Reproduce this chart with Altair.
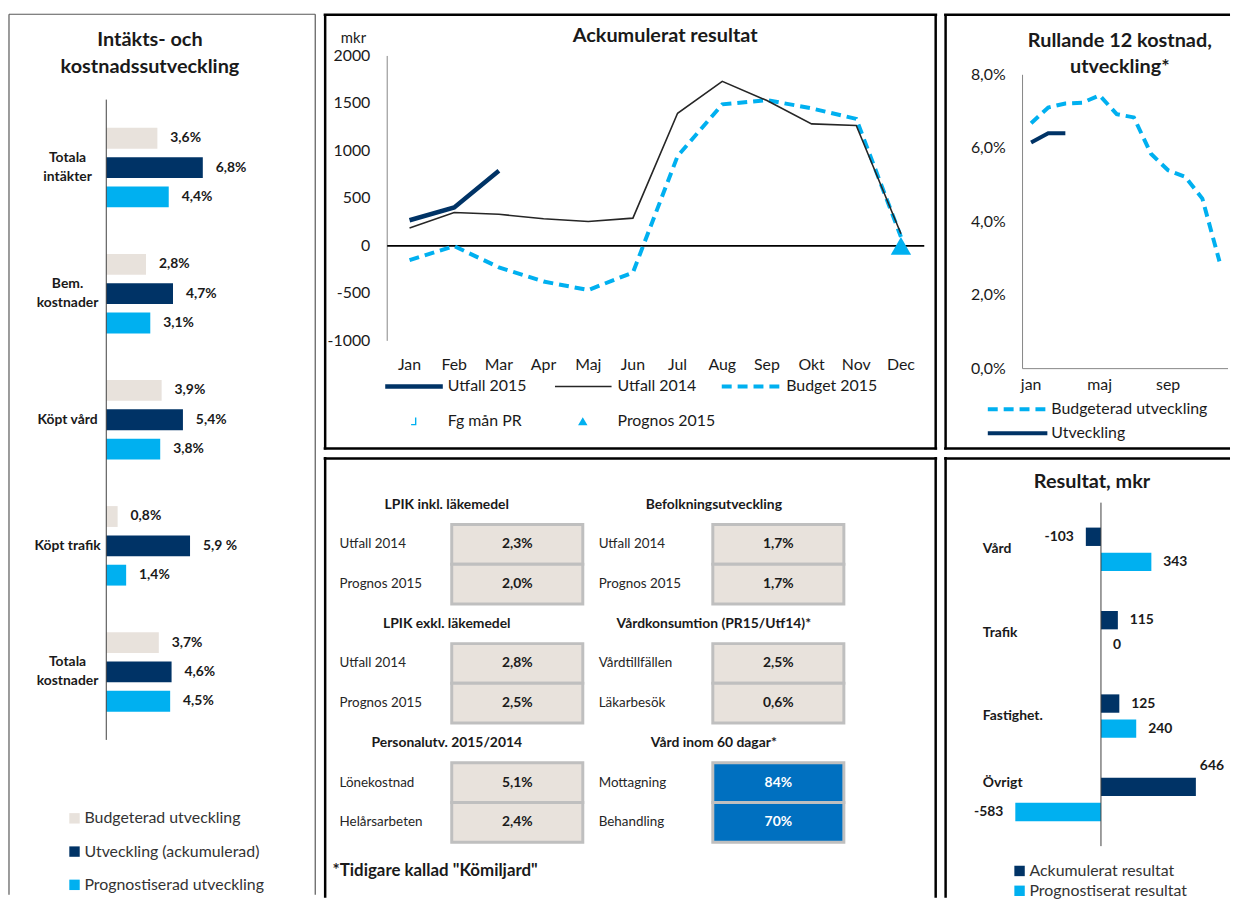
import altair as alt
import pandas as pd

FONT = "Lato"
NAVY = "#003366"
CYAN = "#00B0F0"
BEIGE = "#E8E2DC"
BLUE = "#0070C0"
INK = "#1a1a1a"
AXIS_GREY = "#868686"

# ---------------- data ----------------
# Left: Intäkts- och kostnadssutveckling
dev_categories = ["Totala intäkter", "Bem. kostnader", "Köpt vård", "Köpt trafik", "Totala kostnader"]
dev_category_labels = ["Totala\nintäkter", "Bem.\nkostnader", "Köpt vård", "Köpt trafik", "Totala\nkostnader"]
dev_series = ["Budgeterad utveckling", "Utveckling (ackumulerad)", "Prognostiserad utveckling"]
dev_budget = [3.6, 2.8, 3.9, 0.8, 3.7]
dev_actual = [6.8, 4.7, 5.4, 5.9, 4.6]
dev_forecast = [4.4, 3.1, 3.8, 1.4, 4.5]
dev_budget_text = ["3,6%", "2,8%", "3,9%", "0,8%", "3,7%"]
dev_actual_text = ["6,8%", "4,7%", "5,4%", "5,9 %", "4,6%"]
dev_forecast_text = ["4,4%", "3,1%", "3,8%", "1,4%", "4,5%"]

# Middle top: Ackumulerat resultat (mkr)
months = ["Jan", "Feb", "Mar", "Apr", "Maj", "Jun", "Jul", "Aug", "Sep", "Okt", "Nov", "Dec"]
acc_utfall_2015 = [270, 405, 790]
acc_utfall_2014 = [187, 351, 333, 285, 257, 292, 1396, 1732, 1530, 1285, 1267, 128]
acc_budget_2015 = [-149, -3, -226, -375, -465, -281, 945, 1490, 1535, 1448, 1337, 95]
acc_prognos_month = ["Dec"]
acc_prognos_2015 = [0]
acc_y_ticks = [-1000, -500, 0, 500, 1000, 1500, 2000]

# Right top: Rullande 12 kostnad, utveckling
r12_months = ["jan", "feb", "mar", "apr", "maj", "jun", "jul", "aug", "sep", "okt", "nov", "dec"]
r12_budget = [6.68, 7.11, 7.22, 7.24, 7.44, 6.93, 6.84, 5.85, 5.40, 5.22, 4.63, 2.92]
r12_actual = [6.16, 6.41, 6.41]
r12_y_ticks = [0, 2, 4, 6, 8]
r12_x_ticks = ["jan", "maj", "sep"]

# Middle bottom: key figures
kpi_headings = ["LPIK inkl. läkemedel", "Befolkningsutveckling", "LPIK exkl. läkemedel",
                "Vårdkonsumtion (PR15/Utf14)*", "Personalutv. 2015/2014", "Vård inom 60 dagar*"]
kpi_row_labels = [["Utfall 2014", "Prognos 2015"], ["Utfall 2014", "Prognos 2015"],
                  ["Utfall 2014", "Prognos 2015"], ["Vårdtillfällen", "Läkarbesök"],
                  ["Lönekostnad", "Helårsarbeten"], ["Mottagning", "Behandling"]]
kpi_values = [["2,3%", "2,0%"], ["1,7%", "1,7%"], ["2,8%", "2,5%"],
              ["2,5%", "0,6%"], ["5,1%", "2,4%"], ["84%", "70%"]]
kpi_highlight = [0, 0, 0, 0, 0, 1]
kpi_footnote = '*Tidigare kallad "Kömiljard"'

# Right bottom: Resultat, mkr
res_categories = ["Vård", "Trafik", "Fastighet.", "Övrigt"]
res_series = ["Ackumulerat resultat", "Prognostiserat resultat"]
res_acc = [-103, 115, 125, 646]
res_prog = [343, 0, 240, -583]

# ---------------- helpers ----------------
ONE = alt.Data(values=[{"k": 0}])


def vline(x, y1, y2, color, width):
    return alt.Chart(ONE).mark_rule(color=color, strokeWidth=width).encode(
        x=alt.value(x), y=alt.value(y1), y2=alt.value(y2))


def hline(y, x1, x2, color, width, dash=None):
    mk = dict(color=color, strokeWidth=width)
    if dash:
        mk["strokeDash"] = dash
    return alt.Chart(ONE).mark_rule(**mk).encode(
        x=alt.value(x1), x2=alt.value(x2), y=alt.value(y))


def note(text, x, y, size, weight="normal", align="center", color=INK, line_height=None):
    mk = dict(align=align, baseline="middle", font=FONT, fontSize=size,
              fontWeight=weight, color=color)
    if line_height:
        mk["lineHeight"] = line_height
    return alt.Chart(ONE).mark_text(**mk).encode(
        x=alt.value(x), y=alt.value(y), text=alt.value(text))


LW, MW, RW = 310, 618, 288
TH, BH = 442, 444
LH = TH + 4 + BH
TITLE = 20
LEG = 16
AX = 16

# ---------------- left panel ----------------
DEV_BAR_STEP = 30 / 129  # spacing of the three bars inside one category (category units)
dev_rows = []
for i, cat in enumerate(dev_categories):
    for j, (s, vals, txts) in enumerate(zip(dev_series, [dev_budget, dev_actual, dev_forecast],
                                            [dev_budget_text, dev_actual_text, dev_forecast_text])):
        dev_rows.append({"cat": cat, "series": s, "value": vals[i], "text": txts[i],
                         "pos": i + 0.5 + (j - 1) * DEV_BAR_STEP})
dev_df = pd.DataFrame(dev_rows)
dev_cat_df = pd.DataFrame({"cat": dev_categories, "label": dev_category_labels,
                           "pos": [i + 0.5 for i in range(len(dev_categories))]})

dev_x = alt.Scale(domain=[0, 10], range=[99, 242], nice=False, zero=True)
dev_y = alt.Scale(domain=[0, len(dev_categories)], range=[89, 734], nice=False, zero=False)
dev_color = alt.Scale(domain=dev_series, range=[BEIGE, NAVY, CYAN])

dev_bars = alt.Chart(dev_df).mark_bar(orient="horizontal", size=21).encode(
    x=alt.X("value:Q", scale=dev_x, axis=None),
    y=alt.Y("pos:Q", scale=dev_y, axis=None),
    color=alt.Color("series:N", scale=dev_color, legend=alt.Legend(
        orient="none", legendX=59, legendY=805, direction="vertical", title=None,
        symbolType="square", symbolSize=110, symbolStrokeWidth=0,
        labelFont=FONT, labelFontSize=LEG, labelColor="#333333", labelLimit=300,
        rowPadding=17.5, labelOffset=2, padding=0)),
)
dev_text = alt.Chart(dev_df).mark_text(
    align="left", baseline="middle", dx=13, font=FONT, fontSize=14,
    fontWeight="bold", color=INK).encode(
    x=alt.X("value:Q", scale=dev_x, axis=None),
    y=alt.Y("pos:Q", scale=dev_y, axis=None),
    text="text:N",
)
cat_style = dict(align="center", baseline="middle", font=FONT, fontSize=14,
                 fontWeight="bold", color=INK, lineBreak="\n", lineHeight=19)
dev_cats_two = alt.Chart(dev_cat_df).mark_text(dy=-9.5, **cat_style).encode(
    x=alt.value(60), y=alt.Y("pos:Q", scale=dev_y, axis=None), text="label:N",
).transform_filter("indexof(datum.label, '\\n') >= 0")
dev_cats_one = alt.Chart(dev_cat_df).mark_text(**cat_style).encode(
    x=alt.value(60), y=alt.Y("pos:Q", scale=dev_y, axis=None), text="label:N",
).transform_filter("indexof(datum.label, '\\n') < 0")
dev_axis = alt.Chart(ONE).mark_rule(color="#404040", strokeWidth=1).encode(
    x=alt.X(datum=0, axis=None), y=alt.value(89), y2=alt.value(734))

left = alt.layer(
    vline(1, 3, LH, "#595959", 1.2),
    hline(3, 1, 309.5, "#595959", 1.2),
    vline(309.5, 3, LH, "#595959", 1.2),
    note(["Intäkts- och", "kostnadssutveckling"], 143, 29, TITLE, "bold", line_height=27),
    dev_bars, dev_text, dev_cats_two, dev_cats_one, dev_axis,
).properties(width=LW, height=LH)

# ---------------- middle top: line chart ----------------
acc_x = alt.Scale(type="point", domain=months, range=[64, 604], padding=0.5)
acc_y = alt.Scale(domain=[-1000, 2000], range=[332, 45], nice=False, zero=False)

df_2015 = pd.DataFrame({"month": months[:len(acc_utfall_2015)], "value": acc_utfall_2015})
df_2014 = pd.DataFrame({"month": months, "value": acc_utfall_2014})
df_budget = pd.DataFrame({"month": months, "value": acc_budget_2015})
df_prog = pd.DataFrame({"month": acc_prognos_month, "value": acc_prognos_2015})
df_acc_ticks = pd.DataFrame({"value": acc_y_ticks, "txt": [str(v) for v in acc_y_ticks]})
df_months = pd.DataFrame({"month": months})

x_plain = alt.X("month:N", scale=acc_x, sort=months, axis=None)
y_plain = alt.Y("value:Q", scale=acc_y, axis=None)
ax_text = dict(baseline="middle", font=FONT, fontSize=AX, color=INK)

budget_line = alt.Chart(df_budget).mark_line(
    color=CYAN, strokeWidth=4, strokeDash=[10, 6]).encode(x=x_plain, y=y_plain)
line_2014 = alt.Chart(df_2014).mark_line(color="#262626", strokeWidth=1.6).encode(x=x_plain, y=y_plain)
line_2015 = alt.Chart(df_2015).mark_line(color=NAVY, strokeWidth=4.5).encode(x=x_plain, y=y_plain)
prog_pt = alt.Chart(df_prog).mark_point(
    shape="triangle-up", filled=True, size=420, color=CYAN, opacity=1).encode(x=x_plain, y=y_plain)
zero_rule = alt.Chart(ONE).mark_rule(color="black", strokeWidth=2).encode(
    y=alt.Y(datum=0, axis=None), x=alt.value(64), x2=alt.value(605))
acc_ylabels = alt.Chart(df_acc_ticks).mark_text(align="right", **ax_text).encode(
    x=alt.value(47), y=y_plain, text="txt:N")
acc_xlabels = alt.Chart(df_months).mark_text(align="center", **ax_text).encode(
    x=x_plain, y=alt.value(356), text="month:N")

fg_symbol = alt.Chart(ONE).mark_point(
    shape="M0.4,-0.9L0.4,0.8L-0.7,0.8", filled=False, size=70, color=CYAN,
    strokeWidth=1.4, opacity=1).encode(x=alt.value(91), y=alt.value(413))
prog_symbol = alt.Chart(ONE).mark_point(
    shape="triangle-up", filled=True, size=90, color=CYAN, opacity=1).encode(
    x=alt.value(261), y=alt.value(413))

mid_top = alt.layer(
    vline(1.5, 3, 441.5, "black", 2.5),
    hline(3.5, 0, 618, "black", 2.5),
    vline(616.5, 3, 441.5, "black", 2.5),
    hline(440.5, 0, 618, "black", 2.5),
    note("Ackumulerat resultat", 344, 25, TITLE, "bold"),
    note("mkr", 30, 27, 15),
    vline(64, 45, 332, AXIS_GREY, 1),
    acc_ylabels, acc_xlabels,
    zero_rule, budget_line, line_2014, line_2015, prog_pt,
    hline(378, 62, 120, NAVY, 4.5),
    note("Utfall 2015", 125, 378, LEG, align="left"),
    hline(378, 233, 290, "#262626", 1.6),
    note("Utfall 2014", 296, 378, LEG, align="left"),
    hline(378, 401, 461, CYAN, 4, dash=[10, 6]),
    note("Budget 2015", 466, 378, LEG, align="left"),
    fg_symbol,
    note("Fg mån PR", 125, 413, LEG, align="left"),
    prog_symbol,
    note("Prognos 2015", 296, 413, LEG, align="left"),
).properties(width=MW, height=TH)

# ---------------- right top: rolling 12 ----------------
r12_x = alt.Scale(type="point", domain=r12_months, range=[79, 286], padding=0.5)
r12_y = alt.Scale(domain=[0, 8], range=[360, 64], nice=False)
df_r12_budget = pd.DataFrame({"month": r12_months, "value": r12_budget})
df_r12_actual = pd.DataFrame({"month": r12_months[:len(r12_actual)], "value": r12_actual})
df_r12_yt = pd.DataFrame({"value": r12_y_ticks,
                          "txt": [f"{v:.1f}".replace(".", ",") + "%" for v in r12_y_ticks]})
df_r12_xt = pd.DataFrame({"month": r12_x_ticks})

rx = alt.X("month:N", scale=r12_x, sort=r12_months, axis=None)
ry = alt.Y("value:Q", scale=r12_y, axis=None)
r12_budget_line = alt.Chart(df_r12_budget).mark_line(
    color=CYAN, strokeWidth=4, strokeDash=[10, 6]).encode(x=rx, y=ry)
r12_actual_line = alt.Chart(df_r12_actual).mark_line(color=NAVY, strokeWidth=4).encode(x=rx, y=ry)
r12_ylabels = alt.Chart(df_r12_yt).mark_text(align="right", **ax_text).encode(
    x=alt.value(62), y=ry, text="txt:N")
r12_xlabels = alt.Chart(df_r12_xt).mark_text(align="center", **ax_text).encode(
    x=rx, y=alt.value(377), text="month:N")

right_top = alt.layer(
    vline(1.5, 3, 441.5, "black", 2.5),
    hline(3.5, 0, RW, "black", 2.5),
    hline(440.5, 0, RW, "black", 2.5),
    note(["Rullande 12 kostnad,", "utveckling*"], 177, 30, TITLE, "bold", line_height=26),
    vline(79, 64, 360, AXIS_GREY, 1),
    hline(360, 79, 286, AXIS_GREY, 1),
    r12_ylabels, r12_xlabels,
    r12_budget_line, r12_actual_line,
    hline(401, 44, 104, CYAN, 4, dash=[10, 6]),
    note("Budgeterad utveckling", 108, 401, LEG, align="left"),
    hline(425, 44, 104, NAVY, 4),
    note("Utveckling", 108, 425, LEG, align="left"),
).properties(width=RW, height=TH)

# ---------------- middle bottom: key figure table ----------------
kpi_slots = []
for g in range(len(kpi_headings) // 2):
    kpi_slots += [f"h{g}", f"g{g}r0", f"g{g}r1"]

kpi_rows = []
for b, (lbls, vals) in enumerate(zip(kpi_row_labels, kpi_values)):
    for r in range(2):
        kpi_rows.append({"slot": f"g{b // 2}r{r}", "col": b % 2, "label": lbls[r],
                         "val": vals[r], "hl": kpi_highlight[b]})
kpi_df = pd.DataFrame(kpi_rows)
kpi_head_df = pd.DataFrame({"slot": [f"h{b // 2}" for b in range(len(kpi_headings))],
                            "col": [b % 2 for b in range(len(kpi_headings))],
                            "head": kpi_headings})

kpi_y = alt.Scale(domain=kpi_slots, range=[28, 388], paddingInner=0, paddingOuter=0)
ky = alt.Y("slot:N", scale=kpi_y, axis=None)

kpi_cells = alt.Chart(kpi_df).mark_rect(stroke="#BFBFBF", strokeWidth=3).encode(
    x=alt.X("col:O", scale=alt.Scale(domain=[0, 1], range=[129, 524], paddingInner=0.498,
                                     paddingOuter=0), axis=None),
    y=ky,
    fill=alt.condition("datum.hl == 1", alt.value(BLUE), alt.value(BEIGE)),
)
kpi_vals = alt.Chart(kpi_df).mark_text(
    align="center", baseline="middle", font=FONT, fontSize=14, fontWeight="bold").encode(
    x=alt.X("col:O", scale=alt.Scale(type="point", domain=[0, 1], range=[195, 458], padding=0),
            axis=None),
    y=ky,
    text="val:N",
    color=alt.condition("datum.hl == 1", alt.value("white"), alt.value(INK)),
)
kpi_lbls = alt.Chart(kpi_df).mark_text(
    align="left", baseline="middle", font=FONT, fontSize=13.5, color="#262626").encode(
    x=alt.X("col:O", scale=alt.Scale(type="point", domain=[0, 1], range=[16, 277], padding=0),
            axis=None),
    y=ky,
    text="label:N",
)
kpi_heads = alt.Chart(kpi_head_df).mark_text(
    align="center", baseline="middle", font=FONT, fontSize=14, fontWeight="bold",
    color=INK).encode(
    x=alt.X("col:O", scale=alt.Scale(type="point", domain=[0, 1], range=[124, 393], padding=0),
            axis=None),
    y=ky,
    text="head:N",
)

mid_bot = alt.layer(
    vline(1.5, 0, BH, "black", 2.5),
    hline(1.5, 0, MW, "black", 2.5),
    vline(616.5, 0, BH, "black", 2.5),
    kpi_cells, kpi_vals, kpi_lbls, kpi_heads,
    note(kpi_footnote, 9, 417, 17, "bold", align="left"),
).resolve_scale(x="independent").properties(width=MW, height=BH)

# ---------------- right bottom: Resultat ----------------
RES_BAR_STEP = 26 / 86.5  # spacing of the two bars inside one category (category units)
res_rows = []
for i, cat in enumerate(res_categories):
    for j, (s, vals) in enumerate(zip(res_series, [res_acc, res_prog])):
        res_rows.append({"cat": cat, "series": s, "value": vals[i], "text": str(vals[i]),
                         "pos": i + 0.5 + (j - 0.5) * RES_BAR_STEP})
res_df = pd.DataFrame(res_rows)
res_cat_df = pd.DataFrame({"cat": res_categories,
                           "pos": [i + 0.5 for i in range(len(res_categories))]})

res_x = alt.Scale(domain=[-700, 700], range=[54.4, 261.6], nice=False, zero=False)
res_y = alt.Scale(domain=[0, len(res_categories)], range=[46, 392], nice=False, zero=False)
res_color = alt.Scale(domain=res_series, range=[NAVY, CYAN])

res_enc = dict(
    x=alt.X("value:Q", scale=res_x, axis=None),
    y=alt.Y("pos:Q", scale=res_y, axis=None),
)
res_bars = alt.Chart(res_df).mark_bar(orient="horizontal", size=18.5).encode(
    color=alt.Color("series:N", scale=res_color, legend=alt.Legend(
        orient="none", legendX=68, legendY=409, direction="vertical", title=None,
        symbolType="square", symbolSize=110, symbolStrokeWidth=0,
        labelFont=FONT, labelFontSize=LEG, labelColor="#333333", labelLimit=300,
        rowPadding=4, labelOffset=2, padding=0)),
    **res_enc,
)
txt_style = dict(baseline="middle", font=FONT, fontSize=14, fontWeight="bold", color=INK)
raised = "datum.cat == 'Övrigt' && datum.series == 'Ackumulerat resultat'"
res_pos = alt.Chart(res_df).mark_text(align="left", dx=12, **txt_style).encode(
    text="text:N", **res_enc).transform_filter(f"datum.value >= 0 && !({raised})")
res_neg = alt.Chart(res_df).mark_text(align="right", dx=-12, **txt_style).encode(
    text="text:N", **res_enc).transform_filter("datum.value < 0")
res_up = alt.Chart(res_df).mark_text(align="left", dx=4, dy=-21, **txt_style).encode(
    text="text:N", **res_enc).transform_filter(raised)
res_cats = alt.Chart(res_cat_df).mark_text(align="left", **txt_style).encode(
    x=alt.value(39), y=alt.Y("pos:Q", scale=res_y, axis=None), text="cat:N",
).transform_filter("datum.cat != 'Övrigt'")
res_cats_up = alt.Chart(res_cat_df).mark_text(align="left", dy=-17, **txt_style).encode(
    x=alt.value(39), y=alt.Y("pos:Q", scale=res_y, axis=None), text="cat:N",
).transform_filter("datum.cat == 'Övrigt'")
res_axis = alt.Chart(ONE).mark_rule(color="#404040", strokeWidth=1).encode(
    x=alt.X(datum=0, axis=None), y=alt.value(46), y2=alt.value(392))

right_bot = alt.layer(
    vline(1.5, 0, BH, "black", 2.5),
    hline(1.5, 0, RW, "black", 2.5),
    note("Resultat, mkr", 149, 25, TITLE, "bold"),
    res_bars, res_pos, res_neg, res_up, res_cats, res_cats_up, res_axis,
).properties(width=RW, height=BH)

# ---------------- assemble ----------------
top_row = alt.hconcat(mid_top, right_top, spacing=3).resolve_scale(color="independent")
bottom_row = alt.hconcat(mid_bot, right_bot, spacing=3).resolve_scale(color="independent")
right_block = alt.vconcat(top_row, bottom_row, spacing=4).resolve_scale(color="independent")
chart = (
    alt.hconcat(left, right_block, spacing=5)
    .resolve_scale(color="independent")
    .properties(padding=0)
    .configure(font=FONT)
    .configure_view(strokeWidth=0)
)

chart.save("out.html", embed_options={"renderer": "svg", "actions": False})
